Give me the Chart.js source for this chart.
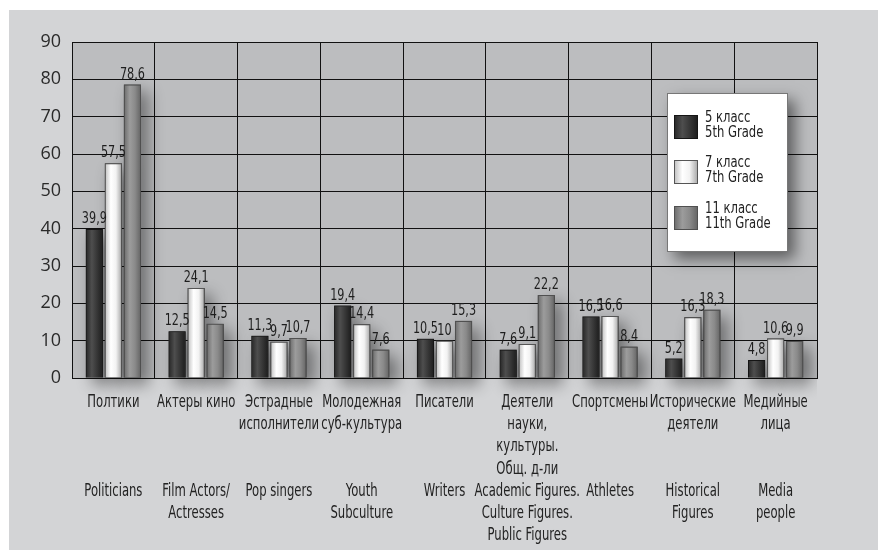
<!DOCTYPE html>
<html>
<head>
<meta charset="utf-8">
<script src="https://cdn.jsdelivr.net/npm/chart.js@4"></script>
<style>
  body { margin: 0; background: #fff; }
  canvas { display: block; }
</style>
</head>
<body>
<canvas id="myChart" width="878" height="550"></canvas>
<script>
// Data
const labelsRu = [
  ['Полтики'], ['Актеры кино'], ['Эстрадные', 'исполнители'], ['Молодежная', 'суб-культура'],
  ['Писатели'], ['Деятели', 'науки,', 'культуры.', 'Общ. д-ли'], ['Спортсмены'],
  ['Исторические', 'деятели'], ['Медийные', 'лица']
];
const labelsEn = [
  ['Politicians'], ['Film Actors/', 'Actresses'], ['Pop singers'], ['Youth', 'Subculture'],
  ['Writers'], ['Academic Figures.', 'Culture Figures.', 'Public Figures'], ['Athletes'],
  ['Historical', 'Figures'], ['Media', 'people']
];
const grade5 = [39.9, 12.5, 11.3, 19.4, 10.5, 7.6, 16.5, 5.2, 4.8];
const grade7 = [57.5, 24.1, 9.7, 14.4, 10, 9.1, 16.6, 16.3, 10.6];
const grade11 = [78.6, 14.5, 10.7, 7.6, 15.3, 22.2, 8.4, 18.3, 9.9];
const seriesNames = [['5 класс', '5th Grade'], ['7 класс', '7th Grade'], ['11 класс', '11th Grade']];

const FONT = "'Liberation Sans Narrow', 'DejaVu Sans Condensed', 'DejaVu Sans', sans-serif";

// Russian lines padded to 4, then English lines
const categories = labelsRu.map((ru, i) => {
  const lines = ru.slice();
  while (lines.length < 4) lines.push('');
  return lines.concat(labelsEn[i]);
});

// gradient stops per series (cylinder look)
const stops = [
  [[0, '#262626'], [0.35, '#4e4e4e'], [0.7, '#333333'], [1, '#1c1c1c']],
  [[0, '#bdbdbd'], [0.35, '#ffffff'], [0.65, '#f2f2f2'], [1, '#a4a4a4']],
  [[0, '#6a6a6a'], [0.35, '#9c9c9c'], [0.65, '#8a8a8a'], [1, '#636363']]
];
const flat = ['#333333', '#f0f0f0', '#888888'];
const borders = ['#151515', '#555555', '#505050'];

function makeGrad(ctx, x0, x1, s) {
  const g = ctx.createLinearGradient(x0, 0, x1, 0);
  s.forEach(([o, c]) => g.addColorStop(o, c));
  return g;
}

// condensed text: squeeze horizontally
function narrowText(ctx, text, x, y, sx) {
  ctx.save();
  ctx.translate(x, y);
  ctx.scale(sx, 1);
  ctx.fillText(text, 0, 0);
  ctx.restore();
}

// grey panel + plot background
const background = {
  id: 'background',
  beforeDraw(chart) {
    const { ctx, chartArea: a } = chart;
    ctx.save();
    ctx.fillStyle = '#d3d4d6';
    ctx.fillRect(9, 10, chart.width - 9, chart.height - 10);
    ctx.fillStyle = '#bcbdbf';
    ctx.fillRect(a.left, a.top, a.right - a.left, a.bottom - a.top);
    ctx.restore();
  }
};

// shadows and gradients for bars, value labels
const barLook = {
  id: 'barLook',
  beforeDatasetsDraw(chart) {
    const ctx = chart.ctx;
    ctx.save();
    ctx.beginPath();
    ctx.rect(chart.chartArea.left, chart.chartArea.top, chart.chartArea.width, chart.chartArea.height + 22);
    ctx.clip();
    chart.data.datasets.forEach((ds, di) => {
      chart.getDatasetMeta(di).data.forEach(el => {
        const x0 = el.x - el.width / 2;
        ctx.shadowColor = 'rgba(0,0,0,0.45)';
        ctx.shadowBlur = 16;
        ctx.shadowOffsetX = 7;
        ctx.shadowOffsetY = 7;
        ctx.fillStyle = 'rgba(60,60,60,1)';
        ctx.fillRect(x0, el.y, el.width, el.base - el.y);
        el.options = Object.assign({}, el.options, {
          backgroundColor: makeGrad(ctx, x0, x0 + el.width, stops[di])
        });
      });
    });
    ctx.restore();
  },
  afterDatasetsDraw(chart) {
    const ctx = chart.ctx;
    ctx.save();
    ctx.font = '16px ' + FONT;
    ctx.fillStyle = '#1e1e1e';
    ctx.textAlign = 'center';
    ctx.textBaseline = 'bottom';
    chart.data.datasets.forEach((ds, di) => {
      chart.getDatasetMeta(di).data.forEach((el, i) => {
        narrowText(ctx, String(ds.data[i]).replace('.', ','), el.x, el.y - 2, 0.78);
      });
    });
    ctx.restore();
  }
};

// category labels, drawn narrow at tick positions
const xLabels = {
  id: 'xLabels',
  afterDraw(chart) {
    const ctx = chart.ctx;
    const xs = chart.scales.x;
    ctx.save();
    ctx.font = '17px ' + FONT;
    ctx.fillStyle = '#222';
    ctx.textAlign = 'center';
    ctx.textBaseline = 'middle';
    categories.forEach((lines, i) => {
      const x = xs.getPixelForTick(i);
      lines.forEach((t, k) => {
        if (t) narrowText(ctx, t, x, xs.top + 24.5 + k * 22.2, 0.76);
      });
    });
    ctx.restore();
  }
};

// legend box inside plot
const boxLegend = {
  id: 'boxLegend',
  afterDraw(chart) {
    const ctx = chart.ctx;
    const bx = 667, by = 93, bw = 121, bh = 159;
    ctx.save();
    ctx.shadowColor = 'rgba(0,0,0,0.5)';
    ctx.shadowBlur = 14;
    ctx.shadowOffsetX = 7;
    ctx.shadowOffsetY = 7;
    ctx.fillStyle = '#ffffff';
    ctx.fillRect(bx, by, bw, bh);
    ctx.restore();
    ctx.save();
    ctx.strokeStyle = '#777';
    ctx.lineWidth = 1;
    ctx.strokeRect(bx + 0.5, by + 0.5, bw - 1, bh - 1);
    const swY = [115, 160, 206];
    ctx.font = '15px ' + FONT;
    ctx.textBaseline = 'middle';
    ctx.textAlign = 'left';
    swY.forEach((y, di) => {
      ctx.fillStyle = makeGrad(ctx, 674, 698, stops[di]);
      ctx.fillRect(674, y, 24, 24);
      ctx.strokeStyle = borders[di];
      ctx.strokeRect(674.5, y + 0.5, 23, 23);
      ctx.fillStyle = '#222';
      narrowText(ctx, seriesNames[di][0], 705, y + 3, 0.86);
      narrowText(ctx, seriesNames[di][1], 705, y + 18, 0.86);
    });
    ctx.restore();
  }
};

const ctx = document.getElementById('myChart').getContext('2d');

const chart = new Chart(ctx, {
  type: 'bar',
  data: {
    labels: categories,
    datasets: [grade5, grade7, grade11].map((d, i) => ({
      label: seriesNames[i].join(' '),
      data: d,
      backgroundColor: flat[i],
      borderColor: borders[i],
      borderWidth: 1,
      borderSkipped: 'bottom',
      categoryPercentage: 0.69,
      barPercentage: 0.9
    }))
  },
  options: {
    responsive: false,
    animation: false,
    layout: { padding: { top: 42, right: 61, left: 0, bottom: 0 } },
    plugins: { legend: { display: false }, tooltip: { enabled: false } },
    scales: {
      x: {
        afterFit(s) { s.height = 172; },
        grid: { color: '#111', lineWidth: 1, drawTicks: false, offset: true },
        border: { color: '#111', width: 1 },
        ticks: {
          // drawn by the xLabels plugin in a condensed form
          autoSkip: false, maxRotation: 0, minRotation: 0, padding: 13,
          color: 'rgba(0,0,0,0)',
          font: { family: FONT, size: 15, lineHeight: 1.47 }
        }
      },
      y: {
        min: 0, max: 90,
        afterFit(s) { s.width = 72; },
        grid: { color: '#111', lineWidth: 1, drawTicks: false },
        border: { color: '#111', width: 1 },
        ticks: {
          stepSize: 10, padding: 11, color: '#2a2a2a',
          font: { family: "'Open Sans', 'Noto Sans', sans-serif", size: 18 }
        }
      }
    }
  },
  plugins: [background, barLook, xLabels, boxLegend]
});
</script>
</body>
</html>
